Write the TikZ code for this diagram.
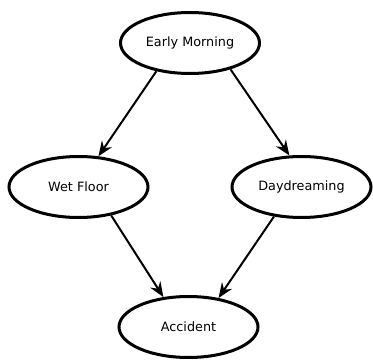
\documentclass[tikz,border=0pt]{standalone}
\usepackage{fontspec}
\setmainfont{DejaVu Sans}
\usepackage{tikz}
\usetikzlibrary{arrows.meta, shapes.geometric}

\begin{document}
\begin{tikzpicture}[
  x=1bp, y=1bp,
  event/.style={draw, ellipse, line width=3bp, minimum width=139bp,
                minimum height=61bp, inner sep=0pt,
                font=\fontsize{12.8bp}{15bp}\selectfont},
  arr/.style={-{Stealth[length=15bp, width=12bp, inset=5bp]}, line width=2bp}
]
  \useasboundingbox (0,0) rectangle (373,360);

  \node[event] (morning)  at (190,317)   {Early Morning};
  \node[event] (wetfloor) at (78.5,173)  {Wet Floor};
  \node[event] (daydream) at (301.5,173) {Daydreaming};
  \node[event] (accident) at (188.5,33)  {Accident};

  \draw[arr] (morning.220)  -- (wetfloor.57);
  \draw[arr] (morning.327)  -- (daydream.111);
  \draw[arr] (wetfloor.319) -- (accident.130);
  \draw[arr] (daydream.227) -- (accident.44);
\end{tikzpicture}
\end{document}
